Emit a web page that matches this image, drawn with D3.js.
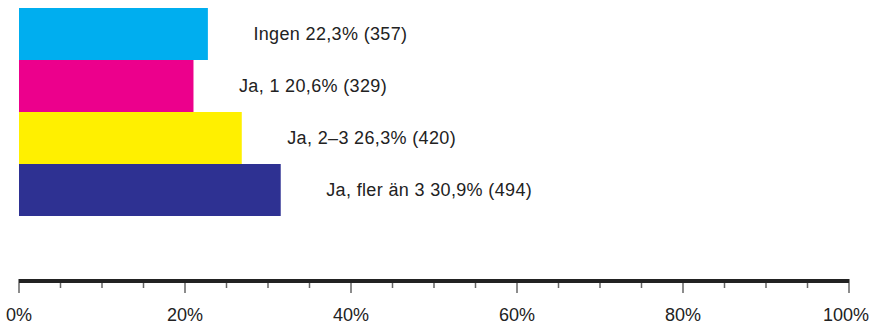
<!DOCTYPE html>
<html>
<head>
<meta charset="utf-8">
<script src="https://cdn.jsdelivr.net/npm/d3@7"></script>
<style>
  body { margin: 0; background: #fff; }
  svg text { font-family: "Liberation Sans", Arial, sans-serif; fill: #222; }
</style>
</head>
<body>
<svg id="chart"></svg>
<script>
// Chart data
var categories = ['Ingen', 'Ja, 1', 'Ja, 2–3', 'Ja, fler än 3'];
var percents = [22.3, 20.6, 26.3, 30.9];
var counts = [357, 329, 420, 494];
var colors = ['#00AEEF', '#EC008C', '#FFF000', '#2E3192'];
var tickValues = [0, 20, 40, 60, 80, 100];

var width = 870;
var height = 324;

var svg = d3.select('#chart')
    .attr('width', width)
    .attr('height', height);

// Axis scale
var x = d3.scaleLinear().domain([0, 100]).range([19, 849]);
// bars in the original run a little longer than the axis
var xBar = d3.scaleLinear().domain([0, 100]).range([19, 866]);

var y = d3.scaleBand()
    .domain(categories)
    .range([8, 216])
    .padding(0);

var rows = categories.map(function(c, i) {
    return { cat: c, pct: percents[i], n: counts[i], color: colors[i] };
});

// Bars
svg.append('g')
    .selectAll('rect')
    .data(rows)
    .enter().append('rect')
    .attr('x', xBar(0))
    .attr('y', function(d) { return y(d.cat); })
    .attr('width', function(d) { return xBar(d.pct) - xBar(0); })
    .attr('height', y.bandwidth())
    .attr('fill', function(d) { return d.color; });

// Labels
svg.append('g')
    .selectAll('text')
    .data(rows)
    .enter().append('text')
    .attr('x', function(d) { return xBar(d.pct) + 45.5; })
    .attr('y', function(d) { return y(d.cat) + y.bandwidth() / 2; })
    .attr('dy', '0.35em')
    .style('font-size', '18px')
    .style('letter-spacing', '0.35px')
    .text(function(d) {
        return d.cat + ' ' + String(d.pct).replace('.', ',') + '% (' + d.n + ')';
    });

// Axis
var axisY = 281;
var axis = svg.append('g').attr('class', 'axis');

// minor ticks every 5%
axis.selectAll('line.minor')
    .data(d3.range(0, 101, 5).filter(function(v) { return v % 20 !== 0; }))
    .enter().append('line')
    .attr('class', 'minor')
    .attr('x1', x).attr('x2', x)
    .attr('y1', axisY).attr('y2', axisY + 7)
    .attr('stroke', '#666')
    .attr('stroke-width', 1.5);

// major ticks
axis.selectAll('line.major')
    .data(tickValues)
    .enter().append('line')
    .attr('class', 'major')
    .attr('x1', x).attr('x2', x)
    .attr('y1', axisY - 2).attr('y2', axisY + 12)
    .attr('stroke', '#666')
    .attr('stroke-width', 1.5);

axis.append('line')
    .attr('x1', x(0)).attr('x2', x(100))
    .attr('y1', axisY).attr('y2', axisY)
    .attr('stroke', '#222')
    .attr('stroke-width', 4);

// last label is pushed in so it stays inside the frame
axis.selectAll('text')
    .data(tickValues)
    .enter().append('text')
    .attr('x', function(d) { return d === 100 ? width - 1 : x(d); })
    .attr('y', 320.5)
    .attr('text-anchor', function(d) { return d === 100 ? 'end' : 'middle'; })
    .style('font-size', '18px')
    .text(function(d) { return d + '%'; });
</script>
</body>
</html>
